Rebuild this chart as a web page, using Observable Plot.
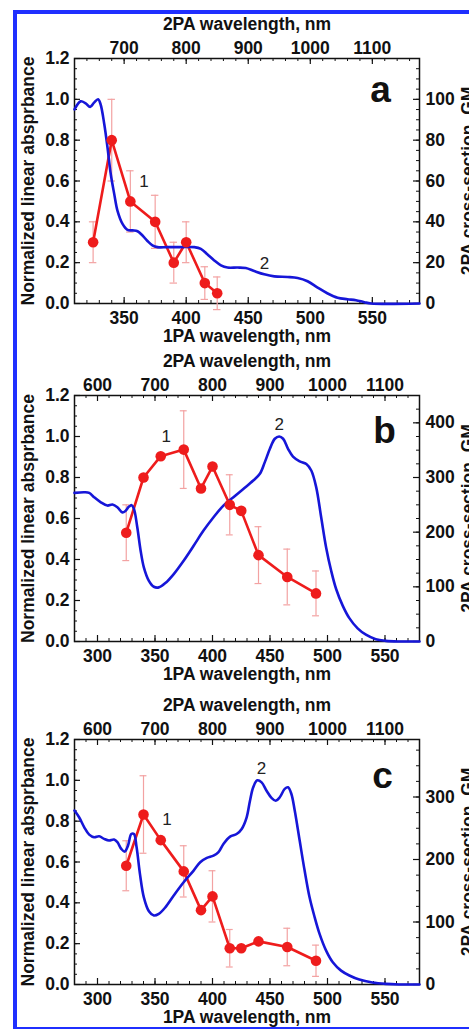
<!DOCTYPE html>
<html><head><meta charset="utf-8">
<script src="https://cdn.jsdelivr.net/npm/d3@7"></script>
<script src="https://cdn.jsdelivr.net/npm/@observablehq/plot@0.6"></script>
<style>
body{margin:0;background:#fff;}
#wrap{position:relative;width:469px;height:1029px;overflow:hidden;background:#fff;}
#border{position:absolute;left:13px;top:10px;width:520px;height:1019px;box-sizing:border-box;border-style:solid;border-color:#1f2fff;border-width:4px 0 2px 4px;pointer-events:none;}
.panel{position:absolute;left:0;}
</style></head><body><div id="wrap"></div>
<script>
// ---------- Panel a ----------
const blueAx = [310,315,319,322.6,325.8,329,331,334,336.6,339.2,342,344.6,348.7,352.7,356.7,360.8,364.8,368.8,372.8,376.9,385,395.7,406.5,411.8,417.2,422.6,428,433.3,441.4,448,454.8,462.9,471,481.7,489.8,497.8,505.9,514,522,530,536.8,543.5,549,588];
const blueAy = [0.951,0.99,0.98,0.963,0.984,1.0,0.976,0.878,0.764,0.634,0.537,0.455,0.39,0.361,0.358,0.354,0.333,0.306,0.285,0.276,0.276,0.276,0.276,0.268,0.24,0.211,0.187,0.176,0.176,0.174,0.159,0.143,0.133,0.13,0.125,0.109,0.078,0.049,0.028,0.021,0.016,0.0065,0,0];
const redAx = [325,340,355,375,390,400,415,425];
const redAgm = [30,80,50,40,20,30,10,5];
const redAerr = [10,20,15,13,10,10,8,8];
const gmTicksA = [0,20,40,60,80,100];
const topLabelsA = [700,800,900,1000,1100];
const bottomTicksA = [350,400,450,500,550];

// ---------- Panel b ----------
const blueBx = [280,288.5,292.8,297,302.9,308.6,313,317.3,321.6,324.5,327.4,329.7,331.7,334.6,337.5,340.3,344.7,349,353.3,359,366.3,374.9,383.6,392.2,400.9,409.5,418.2,426.8,435.4,441.2,445.5,449.9,454.2,458,461.4,465.7,470,475.8,481.6,485.9,490.2,494.5,498.8,503.2,507.5,513.3,519,526.2,533.4,542,550.7,562,580];
const blueBy = [0.725,0.728,0.725,0.704,0.679,0.663,0.668,0.655,0.630,0.638,0.658,0.665,0.647,0.557,0.443,0.362,0.296,0.267,0.264,0.285,0.329,0.394,0.467,0.541,0.606,0.663,0.704,0.744,0.785,0.818,0.875,0.940,0.989,1.0,0.989,0.940,0.902,0.879,0.866,0.834,0.752,0.606,0.459,0.345,0.256,0.174,0.114,0.064,0.033,0.011,0.003,0,0];
const redBx = [325,340,355,375,390,400,415,425,440,465,490];
const redBgm = [199,300,339,351,280,320,250,239,158,118,88];
const redBerr = [51,0,0,71,0,0,55,0,52,51,41];
const gmTicksB = [0,100,200,300,400];
const topLabelsB = [600,700,800,900,1000,1100];
const bottomTicksB = [300,350,400,450,500,550];

// ---------- Panel c ----------
const blueCx = [280,284,288.5,292.8,297,301.4,305.8,310,314.4,317.3,320.7,323.6,326.5,329.4,331.7,334,336.9,340.3,344.7,349,353.3,359,366.3,374.9,383.6,389.3,395.1,400.9,405.2,409.5,415.3,421,425.4,429.7,432.6,435.4,438.9,442.7,447,451.3,455,458.5,462.8,465.7,468.6,471.5,475.8,480.1,484.4,488.8,493.1,498.8,504.6,511.8,519,527.7,539,550.6,562,580];
const blueCy = [0.852,0.819,0.770,0.734,0.721,0.726,0.713,0.705,0.710,0.697,0.664,0.651,0.680,0.737,0.737,0.672,0.542,0.427,0.359,0.338,0.346,0.378,0.436,0.501,0.558,0.599,0.620,0.631,0.648,0.688,0.724,0.737,0.762,0.819,0.900,0.966,1.0,0.990,0.949,0.914,0.900,0.917,0.958,0.966,0.933,0.852,0.705,0.558,0.427,0.330,0.248,0.166,0.109,0.068,0.044,0.024,0.010,0.003,0,0];
const redCx = [325,340,355,375,390,400,415,425,440,465,490];
const redCgm = [190,272,231,181,119,141,58,58,69,60,38];
const redCerr = [40,62,0,41,0,41,30,0,0,30,25];
const gmTicksC = [0,100,200,300];
const topLabelsC = [600,700,800,900,1000,1100];
const bottomTicksC = [300,350,400,450,500,550];

const leftTicks = [0,0.2,0.4,0.6,0.8,1.0,1.2];
const xTitleTop = "2PA wavelength, nm";
const xTitleBottom = "1PA wavelength, nm";
const yTitleLeft = "Normalized linear absprbance";
const yTitleRight = "2PA cross-section, GM";

const BLUE = "#1616d8", RED = "#ee1c1c", ERR = "#f3a2a2";
const FONT = "'Liberation Sans', Arial, Helvetica, sans-serif";

function panel(cfg) {
  const {xDomain, blueX, blueY, redX, redGM, redErr, gmMax, gmTicks, gmMinor,
         topLabels, bottomTicks, letter, letterDx, letterDy, labels,
         top, marginTop, frameH} = cfg;
  const k = gmMax / 1.2;
  const frameW = 345;
  const marginBottom = 42;
  const blue = blueX.map((x, i) => ({x, y: blueY[i]}));
  const red = redX.map((x, i) => ({x, y: redGM[i] / k, e: redErr[i] / k}));
  const errs = red.filter(d => d.e > 0);
  const minorX = d3.range(Math.ceil(xDomain[0] / 10) * 10, xDomain[1] + 0.001, 10);
  const majorX = minorX.filter(v => v % 50 === 0);
  const leftMinor = d3.range(0, 24.5).map(i => i * 0.05);
  const rightMajor = gmTicks.map(g => g / k);
  const rightMinor = d3.range(0, gmMax + 0.001, gmMinor).map(g => g / k);
  const big = 6, small = 3;
  const T = {fontWeight: "bold", textAnchor: "middle", lineAnchor: "middle"};
  const chart = Plot.plot({
    width: 469,
    height: marginTop + frameH + marginBottom,
    marginLeft: 74, marginRight: 50, marginTop, marginBottom,
    x: {domain: xDomain},
    y: {domain: [0, 1.2]},
    style: {fontFamily: FONT, fontSize: "17.5px", fontWeight: "bold", background: "transparent", color: "#111", overflow: "visible"},
    marks: [
      // inward ticks
      Plot.ruleX(minorX, {x: d => d, insetTop: frameH - small, stroke: "#111", strokeWidth: 1}),
      Plot.ruleX(majorX, {x: d => d, insetTop: frameH - big, stroke: "#111", strokeWidth: 1.2}),
      Plot.ruleX(minorX, {x: d => d, insetBottom: frameH - small, stroke: "#111", strokeWidth: 1}),
      Plot.ruleX(topLabels.map(v => v / 2), {x: d => d, insetBottom: frameH - big, stroke: "#111", strokeWidth: 1.2}),
      Plot.ruleY(leftMinor, {y: d => d, insetRight: frameW - small, stroke: "#111", strokeWidth: 1}),
      Plot.ruleY(leftTicks, {y: d => d, insetRight: frameW - big, stroke: "#111", strokeWidth: 1.2}),
      Plot.ruleY(rightMinor, {y: d => d, insetLeft: frameW - small, stroke: "#111", strokeWidth: 1}),
      Plot.ruleY(rightMajor, {y: d => d, insetLeft: frameW - big, stroke: "#111", strokeWidth: 1.2}),
      Plot.frame({stroke: "#111", strokeWidth: 1.5}),
      // axes (labels only)
      Plot.axisX({anchor: "bottom", ticks: bottomTicks, tickFormat: d => String(d), tickSize: 0, tickPadding: 8, label: null}),
      Plot.axisX({anchor: "top", ticks: topLabels.map(v => v / 2), tickFormat: d => String(Math.round(d * 2)), tickSize: 0, tickPadding: 5, label: null}),
      Plot.axisY({anchor: "left", ticks: leftTicks, tickFormat: d3.format(".1f"), tickSize: 0, tickPadding: 5, label: null}),
      Plot.axisY({anchor: "right", ticks: rightMajor, tickFormat: d => String(Math.round(d * k)), tickSize: 0, tickPadding: 6, label: null}),
      // titles
      Plot.text([xTitleTop], {text: d => d, frameAnchor: "top", dy: -34, ...T}),
      Plot.text([xTitleBottom], {text: d => d, frameAnchor: "bottom", dy: 33, ...T}),
      Plot.text([yTitleLeft], {text: d => d, frameAnchor: "left", dx: -46, rotate: -90, ...T}),
      Plot.text([yTitleRight], {text: d => d, frameAnchor: "right", dx: 49, rotate: -90, ...T}),
      Plot.text([letter], {text: d => d, frameAnchor: "top-right", dx: letterDx, dy: letterDy, fontSize: 37, fill: "#111", ...T}),
      // error bars
      Plot.ruleX(errs, {x: "x", y1: d => d.y - d.e, y2: d => d.y + d.e, stroke: ERR, strokeWidth: 1.2}),
      Plot.ruleY(errs, {y: d => d.y + d.e, x1: d => d.x - 3, x2: d => d.x + 3, stroke: ERR, strokeWidth: 1.2}),
      Plot.ruleY(errs, {y: d => d.y - d.e, x1: d => d.x - 3, x2: d => d.x + 3, stroke: ERR, strokeWidth: 1.2}),
      // data
      Plot.line(red, {x: "x", y: "y", stroke: RED, strokeWidth: 2.6}),
      Plot.line(blue, {x: "x", y: "y", stroke: BLUE, strokeWidth: 2.6, curve: "catmull-rom"}),
      Plot.dot(red, {x: "x", y: "y", r: 5.3, fill: RED, stroke: "none"}),
      Plot.text(labels, {x: "x", y: "y", text: "t", fontWeight: "normal", fill: "#222", fontSize: 17})
    ]
  });
  chart.classList.add("panel");
  chart.style.top = top + "px";
  chart.style.position = "absolute";
  return chart;
}

const wrap = document.getElementById("wrap");
wrap.appendChild(panel({
  xDomain: [310, 588], blueX: blueAx, blueY: blueAy, redX: redAx, redGM: redAgm, redErr: redAerr,
  gmMax: 120, gmTicks: gmTicksA, gmMinor: 5, topLabels: topLabelsA, bottomTicks: bottomTicksA,
  letter: "a", letterDx: -39, letterDy: 32,
  labels: [{x: 366, y: 0.597, t: "1"}, {x: 463, y: 0.195, t: "2"}],
  top: 0, marginTop: 58, frameH: 245
}));
wrap.appendChild(panel({
  xDomain: [280, 580], blueX: blueBx, blueY: blueBy, redX: redBx, redGM: redBgm, redErr: redBerr,
  gmMax: 450, gmTicks: gmTicksB, gmMinor: 25, topLabels: topLabelsB, bottomTicks: bottomTicksB,
  letter: "b", letterDx: -35, letterDy: 36,
  labels: [{x: 359.7, y: 1.0, t: "1"}, {x: 458, y: 1.06, t: "2"}],
  top: 345, marginTop: 50, frameH: 246
}));
wrap.appendChild(panel({
  xDomain: [280, 580], blueX: blueCx, blueY: blueCy, redX: redCx, redGM: redCgm, redErr: redCerr,
  gmMax: 392, gmTicks: gmTicksC, gmMinor: 25, topLabels: topLabelsC, bottomTicks: bottomTicksC,
  letter: "c", letterDx: -37, letterDy: 37,
  labels: [{x: 360.5, y: 0.81, t: "1"}, {x: 442.7, y: 1.06, t: "2"}],
  top: 683, marginTop: 56, frameH: 245
}));
const border = document.createElement("div");
border.id = "border";
wrap.appendChild(border);
</script></body></html>
